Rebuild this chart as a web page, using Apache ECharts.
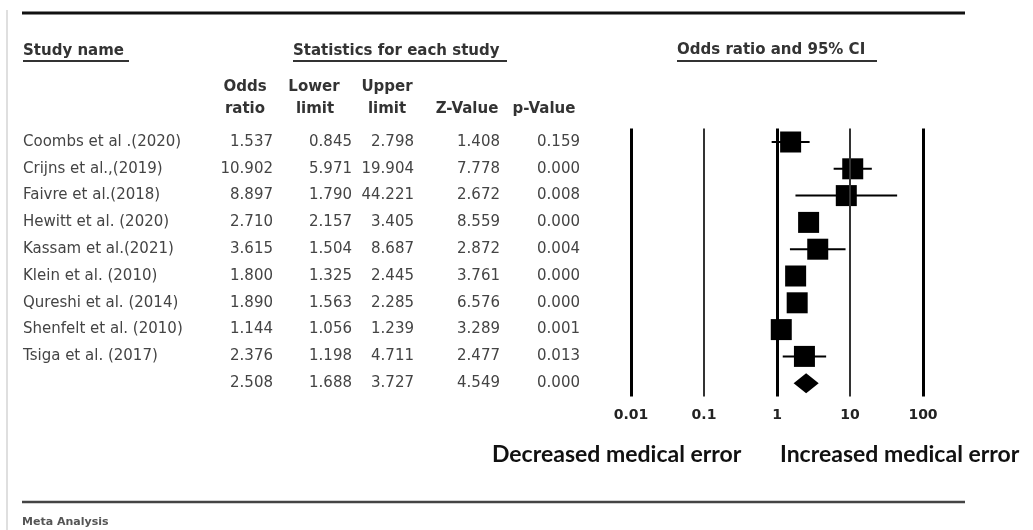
<!DOCTYPE html>
<html>
<head>
<meta charset="utf-8">
<script src="https://cdn.jsdelivr.net/npm/echarts@6/dist/echarts.min.js"></script>
<style>
  html, body { margin: 0; padding: 0; background: #fff; }
  #chart { width: 1033px; height: 530px; }
</style>
</head>
<body>
<div id="chart"></div>
<script>
// rows of the forest plot (last row = pooled result, no name)
const studies = [
  'Coombs et al .(2020)',
  'Crijns et al.,(2019)',
  'Faivre et al.(2018)',
  'Hewitt et al. (2020)',
  'Kassam et al.(2021)',
  'Klein et al. (2010)',
  'Qureshi et al. (2014)',
  'Shenfelt et al. (2010)',
  'Tsiga et al. (2017)',
  '',
];
const oddsRatio = [1.537, 10.902, 8.897, 2.710, 3.615, 1.800, 1.890, 1.144, 2.376, 2.508];
const lowerLimit = [0.845, 5.971, 1.790, 2.157, 1.504, 1.325, 1.563, 1.056, 1.198, 1.688];
const upperLimit = [2.798, 19.904, 44.221, 3.405, 8.687, 2.445, 2.285, 1.239, 4.711, 3.727];
const zValue = [1.408, 7.778, 2.672, 8.559, 2.872, 3.761, 6.576, 3.289, 2.477, 4.549];
const pValue = [0.159, 0.000, 0.008, 0.000, 0.004, 0.000, 0.000, 0.001, 0.013, 0.000];
const xTicks = [0.01, 0.1, 1, 10, 100];
const tickLabels = ['0.01', '0.1', '1', '10', '100'];

const FONT = 'DejaVu Sans';
const chart = echarts.init(document.getElementById('chart'));

const summaryIdx = studies.length - 1;
const studyRows = studies.map((s, i) => i).filter((i) => i !== summaryIdx);

// 表格列 (用 y 轴标签画)
function columnAxis(values, margin) {
  return {
    type: 'category',
    data: studies,
    inverse: true,
    position: 'left',
    axisLine: { show: false },
    axisTick: { show: false },
    splitLine: { show: false },
    axisLabel: {
      interval: 0,
      margin: margin,
      align: 'right',
      fontFamily: FONT,
      fontSize: 15,
      color: '#444',
      formatter: (v, i) => values[i].toFixed(3),
    },
  };
}

function headerText(text, x, y, align) {
  return {
    type: 'text',
    x: x,
    y: y,
    style: {
      text: text,
      fill: '#333',
      font: 'bold 15px "' + FONT + '"',
      align: align || 'center',
      verticalAlign: 'middle',
    },
  };
}
function hLine(x1, x2, y, w, c) {
  return { type: 'line', shape: { x1: x1, y1: y, x2: x2, y2: y }, style: { stroke: c || '#333', lineWidth: w } };
}

const option = {
  backgroundColor: '#fff',
  animation: false,
  grid: { left: 631, right: 110, top: 128.6, height: 268, outerBoundsMode: 'none' },
  xAxis: {
    type: 'log',
    logBase: 10,
    min: 0.01,
    max: 100,
    axisLine: { show: false },
    axisTick: { show: false },
    splitLine: { show: false },
    axisLabel: {
      margin: 12,
      fontFamily: FONT,
      fontSize: 14,
      fontWeight: 'bold',
      color: '#222',
      formatter: (v) => {
        const i = xTicks.findIndex((t) => Math.abs(Math.log10(t) - Math.log10(v)) < 1e-6);
        return i >= 0 ? tickLabels[i] : '';
      },
    },
  },
  yAxis: [
    {
      type: 'category',
      data: studies,
      inverse: true,
      axisLine: { show: false },
      axisTick: { show: false },
      splitLine: { show: false },
      axisLabel: {
        interval: 0,
        margin: 608,
        align: 'left',
        fontFamily: FONT,
        fontSize: 15,
        color: '#444',
      },
    },
    columnAxis(oddsRatio, 631 - 273),
    columnAxis(lowerLimit, 631 - 352),
    columnAxis(upperLimit, 631 - 414),
    columnAxis(zValue, 631 - 500),
    columnAxis(pValue, 631 - 580),
  ],
  series: [
    {
      // confidence interval whiskers
      type: 'custom',
      data: studyRows.map((i) => [lowerLimit[i], upperLimit[i], i]),
      encode: { x: [0, 1], y: 2 },
      renderItem: (params, api) => {
        const a = api.coord([api.value(0), api.value(2)]);
        const b = api.coord([api.value(1), api.value(2)]);
        return {
          type: 'line',
          shape: { x1: a[0], y1: a[1], x2: b[0], y2: b[1] },
          style: { stroke: '#000', lineWidth: 2 },
        };
      },
      z: 2,
    },
    {
      type: 'scatter',
      symbol: 'rect',
      symbolSize: 21,
      itemStyle: { color: '#000', opacity: 1 },
      data: studyRows.map((i) => [oddsRatio[i], i]),
      z: 3,
      markLine: {
        silent: true,
        symbol: 'none',
        label: { show: false },
        data: xTicks.map((t, k) => ({
          xAxis: t,
          lineStyle: { type: 'solid', color: k % 2 === 0 ? '#000' : '#333', width: k % 2 === 0 ? 3 : 2 },
        })),
      },
    },
    {
      // pooled estimate diamond
      type: 'custom',
      data: [[lowerLimit[summaryIdx], oddsRatio[summaryIdx], upperLimit[summaryIdx], summaryIdx]],
      encode: { x: [0, 1, 2], y: 3 },
      renderItem: (params, api) => {
        const l = api.coord([api.value(0), api.value(3)]);
        const m = api.coord([api.value(1), api.value(3)]);
        const r = api.coord([api.value(2), api.value(3)]);
        const h = 10;
        return {
          type: 'polygon',
          shape: { points: [[l[0], l[1]], [m[0], m[1] - h], [r[0], r[1]], [m[0], m[1] + h]] },
          style: { fill: '#000' },
        };
      },
      z: 3,
    },
  ],
  graphic: [
    { type: 'line', shape: { x1: 7, y1: 10, x2: 7, y2: 530 }, style: { stroke: '#d4d4d4', lineWidth: 1.5 } },
    hLine(22, 965, 13, 3, '#111'),
    hLine(22, 965, 502, 2.5, '#444'),
    headerText('Study name', 23, 51, 'left'),
    hLine(23, 129, 61, 2),
    headerText('Statistics for each study', 293, 51, 'left'),
    hLine(293, 507, 61, 2),
    headerText('Odds ratio and 95% CI', 677, 50, 'left'),
    hLine(677, 877, 61, 2),
    headerText('Odds', 245, 87),
    headerText('ratio', 245, 109),
    headerText('Lower', 314, 87),
    headerText('limit', 315, 109),
    headerText('Upper', 387, 87),
    headerText('limit', 387, 109),
    headerText('Z-Value', 467, 109),
    headerText('p-Value', 544, 109),
    {
      type: 'text', x: 492, y: 455,
      style: { text: 'Decreased medical error', fill: '#111', font: 'bold 23px Lato', verticalAlign: 'middle' },
    },
    {
      type: 'text', x: 780, y: 455,
      style: { text: 'Increased medical error', fill: '#111', font: 'bold 23px Lato', verticalAlign: 'middle' },
    },
    {
      type: 'text', x: 22, y: 522,
      style: { text: 'Meta Analysis', fill: '#555', font: 'bold 11px "' + FONT + '"', verticalAlign: 'middle' },
    },
  ],
};

chart.setOption(option);
</script>
</body>
</html>
